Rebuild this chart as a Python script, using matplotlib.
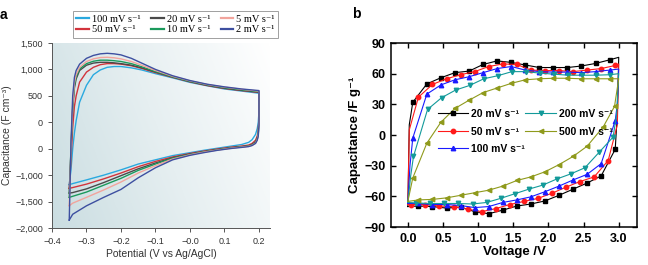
import numpy as np
import matplotlib
matplotlib.use("Agg")
import matplotlib.pyplot as plt
from matplotlib.colors import LinearSegmentedColormap

# ---------------- panel a data (potential / capacitance) ----------------
a_labels = ['100 mV s⁻¹', '50 mV s⁻¹', '20 mV s⁻¹', '10 mV s⁻¹', '5 mV s⁻¹', '2 mV s⁻¹']
a_colors = ['#2aa9df', '#d2343c', '#4a4a4a', '#1b9a5c', '#f2a49c', '#3d4fa0']

x_up = [-0.35, -0.345, -0.34, -0.335, -0.33, -0.32, -0.30, -0.28, -0.26, -0.24, -0.22,
        -0.20, -0.17, -0.14, -0.10, -0.05, 0.0, 0.05, 0.10, 0.15, 0.20]
x_low = [0.20, 0.198, 0.195, 0.19, 0.18, 0.17, 0.15, 0.12, 0.08, 0.04, 0.0,
         -0.05, -0.10, -0.15, -0.20, -0.25, -0.30, -0.34, -0.35]

a_up = {
    '100': [-1180, -900, -500, -200, 30, 380, 700, 900, 990, 1040, 1055, 1055, 1030, 990, 920, 840, 755, 690, 630, 590, 550],
    '50': [-1250, -700, -100, 300, 500, 760, 950, 1040, 1090, 1110, 1110, 1100, 1070, 1020, 940, 850, 765, 695, 640, 600, 565],
    '20': [-1340, -550, 250, 650, 820, 980, 1080, 1120, 1135, 1135, 1125, 1110, 1080, 1030, 950, 855, 770, 700, 645, 605, 570],
    '10': [-1420, -500, 300, 700, 860, 1010, 1110, 1155, 1175, 1175, 1165, 1150, 1110, 1050, 960, 860, 775, 710, 655, 615, 580],
    '5': [-1580, -500, 350, 750, 900, 1040, 1150, 1200, 1225, 1230, 1220, 1200, 1150, 1080, 980, 870, 785, 715, 665, 625, 590],
    '2': [-1850, -400, 500, 850, 980, 1100, 1210, 1265, 1295, 1305, 1295, 1275, 1210, 1120, 1000, 880, 790, 720, 670, 630, 600],
}
a_low = {
    '100': [200, 0, -120, -230, -330, -380, -420, -450, -490, -530, -575, -630, -710, -790, -900, -1000, -1090, -1160, -1180],
    '50': [100, -150, -260, -340, -400, -430, -450, -470, -505, -545, -590, -655, -740, -840, -960, -1070, -1170, -1235, -1250],
    '20': [50, -200, -300, -370, -420, -445, -460, -480, -515, -555, -600, -670, -770, -880, -1010, -1140, -1260, -1330, -1340],
    '10': [30, -220, -320, -385, -430, -450, -465, -485, -520, -560, -610, -680, -790, -910, -1060, -1190, -1320, -1400, -1420],
    '5': [0, -240, -330, -395, -435, -455, -470, -490, -525, -565, -615, -695, -820, -960, -1130, -1280, -1420, -1530, -1580],
    '2': [-50, -260, -340, -400, -440, -460, -475, -495, -530, -575, -625, -710, -860, -1050, -1270, -1420, -1580, -1740, -1850],
}
a_keys = ['100', '50', '20', '10', '5', '2']
a_yticks = [1500, 1000, 500, 0, -500, -1000, -1500, -2000]
a_yticklabels = ['1,500', '1,000', '500', '0', '0', '−1,000', '−1,500', '−2,000']
a_xticks = [-0.4, -0.3, -0.2, -0.1, 0.0, 0.1, 0.2]
a_xticklabels = ['−0.4', '−0.3', '−0.2', '−0.1', '−0.0', '0.1', '0.2']

# ---------------- panel b data (voltage / capacitance) ----------------
b_labels = ['20 mV s⁻¹', '50 mV s⁻¹', '100 mV s⁻¹', '200 mV s⁻¹', '500 mV s⁻¹']
b_colors = ['#000000', '#ff1a1a', '#1a1aff', '#139a9a', '#8f9a1c']
b_markers = ['s', 'o', '^', 'v', '<']

b_v = [
    # 20 mV/s
    [0.0, 0.02, 0.07, 0.27, 0.47, 0.67, 0.87, 1.07, 1.27, 1.47, 1.67, 1.87, 2.07, 2.27, 2.47, 2.67, 2.87, 3.0,
     2.98, 2.95, 2.75, 2.55, 2.35, 2.15, 1.95, 1.75, 1.55, 1.35, 1.15, 0.95, 0.75, 0.55, 0.35, 0.15, 0.0],
    # 50 mV/s
    [0.0, 0.02, 0.15, 0.35, 0.55, 0.75, 0.95, 1.15, 1.35, 1.55, 1.75, 1.95, 2.15, 2.35, 2.55, 2.75, 2.95, 3.0,
     2.98, 2.85, 2.65, 2.45, 2.25, 2.05, 1.85, 1.65, 1.45, 1.25, 1.05, 0.85, 0.65, 0.45, 0.25, 0.05, 0.0],
    # 100 mV/s
    [0.0, 0.03, 0.07, 0.27, 0.47, 0.67, 0.87, 1.07, 1.27, 1.47, 1.67, 1.87, 2.07, 2.27, 2.47, 2.67, 2.87, 3.0,
     2.98, 2.95, 2.75, 2.55, 2.35, 2.15, 1.95, 1.75, 1.55, 1.35, 1.15, 0.95, 0.75, 0.55, 0.35, 0.15, 0.0],
    # 200 mV/s
    [0.0, 0.04, 0.08, 0.28, 0.48, 0.68, 0.88, 1.08, 1.28, 1.48, 1.68, 1.88, 2.08, 2.28, 2.48, 2.68, 2.88, 3.0,
     2.97, 2.92, 2.72, 2.52, 2.32, 2.12, 1.92, 1.72, 1.52, 1.32, 1.12, 0.92, 0.72, 0.52, 0.32, 0.12, 0.0],
    # 500 mV/s
    [0.0, 0.07, 0.27, 0.47, 0.67, 0.87, 1.07, 1.27, 1.47, 1.67, 1.87, 2.07, 2.27, 2.47, 2.67, 2.87, 3.0,
     2.94, 2.78, 2.55, 2.35, 2.15, 1.95, 1.75, 1.55, 1.35, 1.15, 0.95, 0.75, 0.55, 0.35, 0.15, 0.0],
]
b_c = [
    [-70, 10, 32, 50, 56, 61, 62.5, 69, 72.5, 71, 68.5, 66, 66, 66, 67.5, 70, 73.5, 76,
     20, -14, -40, -47, -53, -59, -64.5, -67.5, -69.5, -73.5, -77, -75, -70.5, -71.5, -70, -69.5, -70],
    [-68, 5, 37, 49.5, 55, 59, 62, 67, 69.5, 69, 63.5, 63, 63, 62, 63.5, 65, 68, 69.5,
     10, -25, -41, -45.5, -51, -57, -62, -65, -68, -72, -75, -72.5, -70, -69.5, -68, -68, -68],
    [-67, -30, -3, 40, 49, 54, 57, 61, 65, 67, 63.5, 62, 61.5, 61.5, 61, 62, 63.5, 64.5,
     30, 14, -28, -38.5, -44, -50, -55.5, -60.5, -63.5, -66, -70, -71, -69, -68, -68, -67, -67],
    [-66, -40, -21, 25, 36.5, 44, 48.5, 55, 58, 62, 62, 60.5, 59.5, 58.5, 58.5, 58.5, 59, 60,
     20, -2, -17, -32, -38, -43, -49, -53, -57.5, -62, -66, -67.5, -67, -67, -67, -66.5, -66],
    [-65, -42, -8, 12.5, 26, 34, 41.5, 46, 50.5, 54, 55, 55.5, 55.5, 55, 55, 55, 55,
     28, 8, -11, -21, -29, -36, -41, -44.5, -50, -54, -56.5, -59, -61.5, -63, -63.5, -65],
]
# points of each series that carry no marker (ends and bends of the sweep)
b_nomark = [[0, 1, 17, 18, 34], [0, 1, 17, 18, 34], [0, 1, 17, 18, 34], [0, 1, 17, 18, 34], [0, 16, 32]]
b_xticks = [0.0, 0.5, 1.0, 1.5, 2.0, 2.5, 3.0]
b_yticks = [-90, -60, -30, 0, 30, 60, 90]

# ---------------- figure ----------------
fig = plt.figure(figsize=(6.48, 2.65), dpi=100)
sans = ['Liberation Sans', 'DejaVu Sans']
serif = ['Liberation Serif', 'DejaVu Serif']

# panel a
ax1 = fig.add_axes([52 / 648, 1 - 228 / 265, 218 / 648, 185 / 265])
xmin, xmax, ymin, ymax = -0.4, 0.232, -2000, 1500
cmap = LinearSegmentedColormap.from_list('bg', ['#cadde1', '#e6eff1', '#ffffff'])
gx, gy = np.meshgrid(np.linspace(0, 1, 200), np.linspace(0, 1, 200))
ax1.imshow(0.75 * gx + 0.25 * (1 - gy), cmap=cmap, extent=[xmin, xmax, ymin, ymax],
           aspect='auto', origin='upper', zorder=0, vmin=0, vmax=1)
handles = []
for k, lab, col in zip(a_keys, a_labels, a_colors):
    xs = x_up + x_low + [x_up[0]]
    ys = a_up[k] + a_low[k] + [a_up[k][0]]
    h, = ax1.plot(xs, ys, color=col, lw=1.0, label=lab, zorder=2)
    handles.append(h)
ax1.set_xlim(xmin, xmax)
ax1.set_ylim(ymin, ymax)
ax1.spines['top'].set_visible(False)
ax1.spines['right'].set_visible(False)
for s in ['left', 'bottom']:
    ax1.spines[s].set_color('#555555')
    ax1.spines[s].set_linewidth(0.7)
ax1.set_xticks(a_xticks)
ax1.set_xticklabels(a_xticklabels)
ax1.set_yticks(a_yticks)
ax1.set_yticklabels(a_yticklabels)
ax1.tick_params(labelsize=6.5, colors='#555555', length=3, width=0.7, labelcolor='#333333')
for t in ax1.get_xticklabels() + ax1.get_yticklabels():
    t.set_family(sans)
ax1.set_xlabel('Potential (V vs Ag/AgCl)', fontsize=7.5, family=sans, color='#333333', labelpad=2)
ax1.set_ylabel('Capacitance (F cm⁻³)', fontsize=7.5, family=sans, color='#333333', labelpad=2)
leg = fig.legend(handles=handles, ncol=3, loc='upper left', bbox_to_anchor=(68 / 648, 1 - 6 / 265),
                 prop={'family': serif, 'size': 7.5}, frameon=True, fancybox=False,
                 handlelength=1.2, handletextpad=0.3, columnspacing=1.0, labelspacing=0.15,
                 borderpad=0.3, edgecolor='#888888')
leg.get_frame().set_linewidth(0.7)
for l in leg.get_lines():
    l.set_linewidth(1.6)
fig.text(0.0, 1 - 15 / 265, 'a', fontsize=10, fontweight='bold', family=sans, va='center')

# panel b
ax2 = fig.add_axes([391 / 648, 1 - 227 / 265, 246 / 648, 184 / 265])
for v, c, lab, col, m, skip in zip(b_v, b_c, b_labels, b_colors, b_markers, b_nomark):
    marks = [i for i in range(len(v)) if i not in skip]
    ax2.plot(v, c, color=col, lw=0.8, marker=m, markersize=3.2, label=lab, markevery=marks)
ax2.set_xlim(-0.24, 3.26)
ax2.set_ylim(-90, 90)
ax2.set_xticks(b_xticks)
ax2.set_xticklabels(['%.1f' % t for t in b_xticks])
ax2.set_yticks(b_yticks)
for s in ax2.spines.values():
    s.set_linewidth(1.1)
ax2.tick_params(direction='in', top=True, right=True, length=3.5, width=1.0, labelsize=9, pad=4)
for t in ax2.get_xticklabels() + ax2.get_yticklabels():
    t.set_family(sans)
    t.set_fontweight('bold')
ax2.set_xlabel('Voltage /V', fontsize=9.5, fontweight='bold', family=sans, labelpad=1)
ax2.set_ylabel('Capacitance /F g⁻¹', fontsize=9.5, fontweight='bold', family=sans, labelpad=2)
ax2.legend(ncol=2, loc='upper left', bbox_to_anchor=(0.165, 0.675), frameon=False,
           prop={'family': sans, 'size': 7.5, 'weight': 'bold'}, handlelength=2.9,
           handletextpad=0.3, columnspacing=0.05, labelspacing=0.72, borderpad=0.1)
fig.text(352 / 648, 1 - 14 / 265, 'b', fontsize=10, fontweight='bold', family=sans, va='center')

fig.savefig('out.png', dpi=100)
